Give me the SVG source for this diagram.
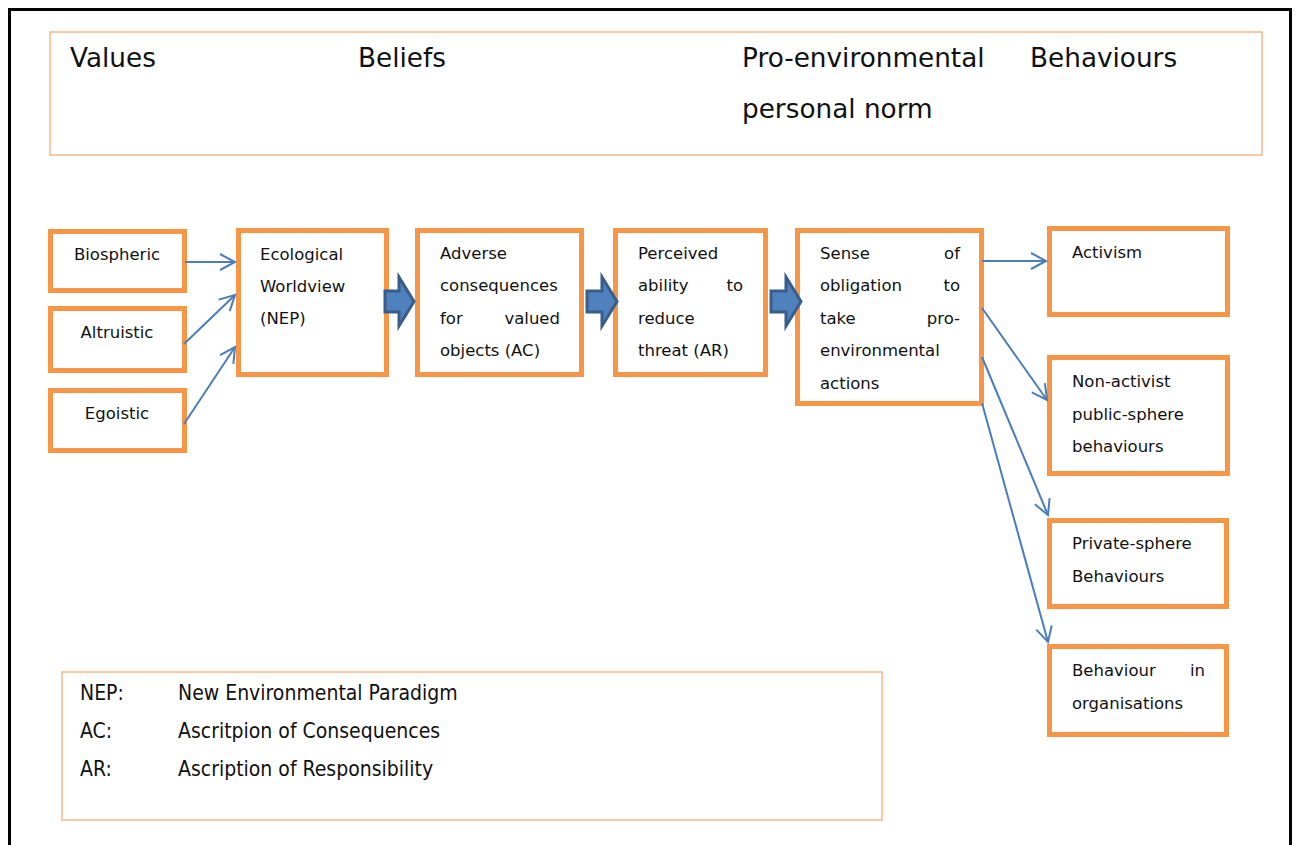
<svg xmlns="http://www.w3.org/2000/svg" width="1299" height="845" viewBox="0 0 1299 845">
<style>
.node{fill:#fff;stroke:#F79646;stroke-width:5}
.t{font-family:"DejaVu Sans",sans-serif;font-size:16.5px;fill:#111}
.h{font-family:"DejaVu Sans",sans-serif;font-size:26.3px;fill:#111}
.lg{font-family:"DejaVu Sans Condensed","DejaVu Sans",sans-serif;font-size:21px;fill:#111}
.c{text-anchor:middle}
.e{text-anchor:end}
.conn{fill:none;stroke:#4A7EBB;stroke-width:2}
.blk{fill:#4F81BD;stroke:#385D8A;stroke-width:3;stroke-linejoin:miter}
</style>
<defs>
<marker id="arr" markerUnits="userSpaceOnUse" markerWidth="40" markerHeight="40" viewBox="-20 -20 40 40" refX="0" refY="0" orient="auto">
<path d="M-15,-8 L0,0 L-15,8" fill="none" stroke="#4A7EBB" stroke-width="2"/>
</marker>
</defs>
<rect width="1299" height="845" fill="#fff"/>
<path d="M9.5,850 V9.5 H1290.5 V850" fill="none" stroke="#000" stroke-width="3"/>
<g id="header">
<rect x="50" y="32" width="1212" height="123" fill="#fff" stroke="#F6AD78" stroke-width="1.3"/>
<text class="h" x="70" y="67">Values</text>
<text class="h" x="358" y="67">Beliefs</text>
<text class="h" x="742" y="67">Pro-environmental</text>
<text class="h" x="1030" y="67">Behaviours</text>
<text class="h" x="742" y="118">personal norm</text>
</g>
<g id="legend">
<rect x="62" y="672" width="820" height="148" fill="#fff" stroke="#F6AD78" stroke-width="1.3"/>
<text class="lg" x="80" y="700">NEP:</text>
<text class="lg" x="178" y="700">New Environmental Paradigm</text>
<text class="lg" x="80" y="738">AC:</text>
<text class="lg" x="178" y="738">Ascritpion of Consequences</text>
<text class="lg" x="80" y="776">AR:</text>
<text class="lg" x="178" y="776">Ascription of Responsibility</text>
</g>
<g id="biospheric"><rect class="node" x="50.5" y="231.5" width="134" height="59"/><text class="t c" x="117" y="260">Biospheric</text></g>
<g id="altruistic"><rect class="node" x="50.5" y="308.5" width="134" height="62"/><text class="t c" x="117" y="338">Altruistic</text></g>
<g id="egoistic"><rect class="node" x="50.5" y="390.5" width="134" height="60"/><text class="t c" x="117" y="419">Egoistic</text></g>
<g id="ecological"><rect class="node" x="238.5" y="230.5" width="148" height="144"/>
<text class="t" x="260" y="260">Ecological</text><text class="t" x="260" y="292">Worldview</text><text class="t" x="260" y="324">(NEP)</text></g>
<g id="adverse"><rect class="node" x="417.5" y="230.5" width="164" height="144"/>
<text class="t" x="440" y="259">Adverse</text><text class="t" x="440" y="291">consequences</text>
<text class="t" x="440" y="324">for</text><text class="t e" x="560" y="324">valued</text>
<text class="t" x="440" y="356">objects (AC)</text></g>
<g id="perceived"><rect class="node" x="615.5" y="230.5" width="150" height="144"/>
<text class="t" x="638" y="259">Perceived</text>
<text class="t" x="638" y="291">ability</text><text class="t e" x="743" y="291">to</text>
<text class="t" x="638" y="324">reduce</text><text class="t" x="638" y="356">threat (AR)</text></g>
<g id="sense"><rect class="node" x="797.5" y="230.5" width="184" height="173"/>
<text class="t" x="820" y="259">Sense</text><text class="t e" x="960" y="259">of</text>
<text class="t" x="820" y="291">obligation</text><text class="t e" x="960" y="291">to</text>
<text class="t" x="820" y="324">take</text><text class="t e" x="960" y="324">pro-</text>
<text class="t" x="820" y="356">environmental</text>
<text class="t" x="820" y="389">actions</text></g>
<g id="activism"><rect class="node" x="1049.5" y="228.5" width="178" height="86"/><text class="t" x="1072" y="258">Activism</text></g>
<g id="nonactivist"><rect class="node" x="1049.5" y="357.5" width="178" height="116"/>
<text class="t" x="1072" y="387">Non-activist</text><text class="t" x="1072" y="420">public-sphere</text><text class="t" x="1072" y="452">behaviours</text></g>
<g id="private"><rect class="node" x="1049.5" y="520.5" width="177" height="86"/>
<text class="t" x="1072" y="549">Private-sphere</text><text class="t" x="1072" y="582">Behaviours</text></g>
<g id="organisations"><rect class="node" x="1049.5" y="646.5" width="177" height="88"/>
<text class="t" x="1072" y="676">Behaviour</text><text class="t e" x="1205" y="676">in</text>
<text class="t" x="1072" y="709">organisations</text></g>
<g id="connectors">
<line class="conn" x1="185" y1="262" x2="235" y2="262" marker-end="url(#arr)"/>
<line class="conn" x1="184" y1="344" x2="235" y2="295" marker-end="url(#arr)"/>
<line class="conn" x1="184" y1="424" x2="235" y2="347" marker-end="url(#arr)"/>
<line class="conn" x1="982" y1="261" x2="1046" y2="261" marker-end="url(#arr)"/>
<line class="conn" x1="982" y1="308" x2="1047" y2="400" marker-end="url(#arr)"/>
<line class="conn" x1="982" y1="357" x2="1048" y2="515" marker-end="url(#arr)"/>
<line class="conn" x1="982" y1="403" x2="1048" y2="642" marker-end="url(#arr)"/>
<path class="blk" d="M385,291 H399 V277 L414,301.5 L399,326 V312 H385 Z"/>
<path class="blk" d="M587,291 H602 V277 L617,301.5 L602,326 V312 H587 Z"/>
<path class="blk" d="M771,291 H786 V277 L801,301.5 L786,326 V312 H771 Z"/>
</g>
</svg>
